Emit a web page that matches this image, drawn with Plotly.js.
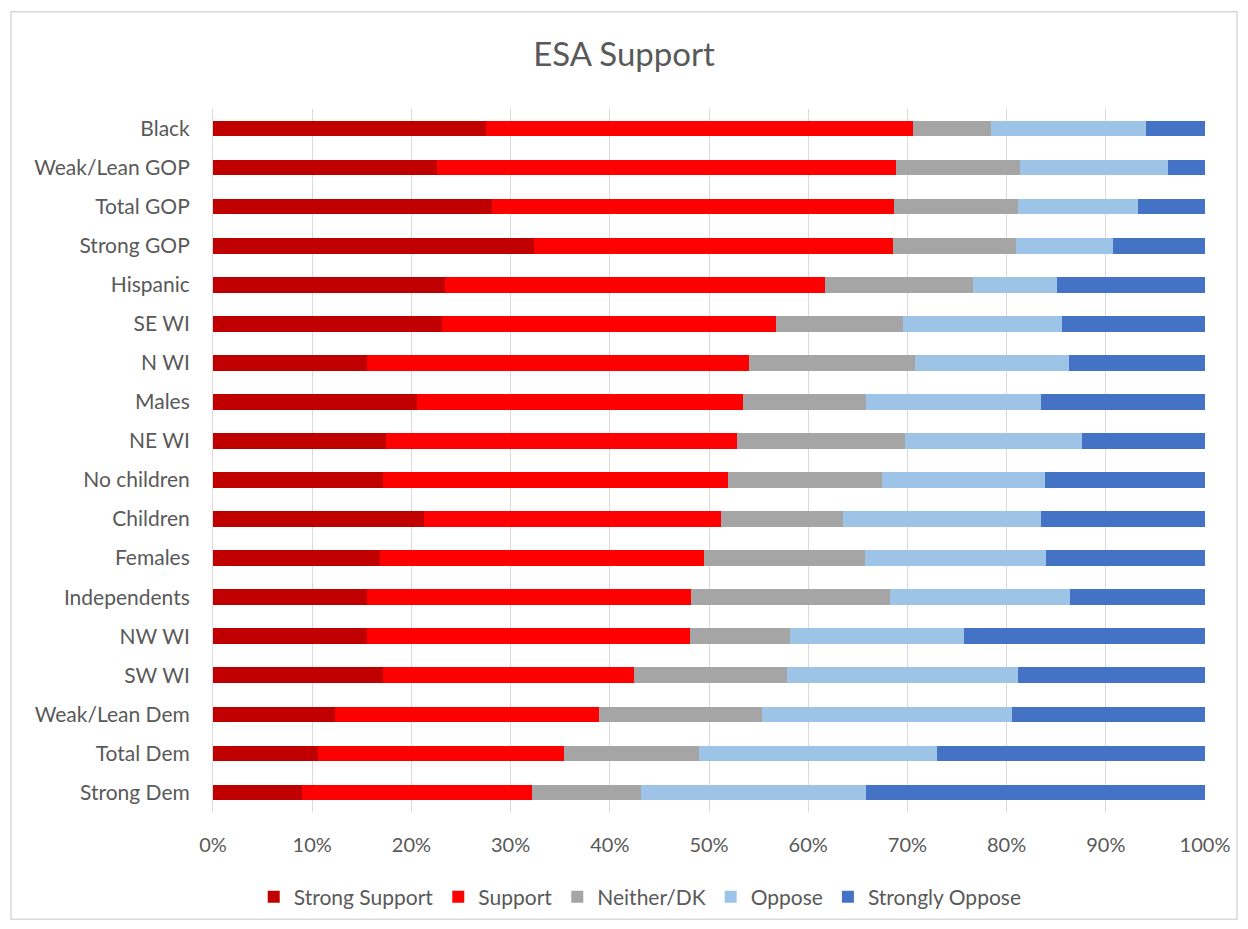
<!DOCTYPE html>
<html>
<head>
<meta charset="utf-8">
<script src="https://cdn.plot.ly/plotly-3.0.1.min.js"></script>
<style>
html,body{margin:0;padding:0;background:#fff;}
#chart{width:1248px;height:929px;}
</style>
</head>
<body>
<div id="chart"></div>
<script>
// Categories, top to bottom as shown
var categories = ["Black","Weak/Lean GOP","Total GOP","Strong GOP","Hispanic","SE WI","N WI","Males","NE WI","No children","Children","Females","Independents","NW WI","SW WI","Weak/Lean Dem","Total Dem","Strong Dem"];

var strongSupport  = [27.5,22.6,28.1,32.4,23.4,23.1,15.5,20.6,17.4,17.1,21.3,16.8,15.5,15.5,17.1,12.3,10.6, 9.0];
var support        = [43.1,46.2,40.5,36.1,38.3,33.7,38.5,32.8,35.4,34.8,29.9,32.7,32.7,32.6,25.3,26.6,24.8,23.2];
var neither        = [ 7.8,12.6,12.5,12.4,14.9,12.8,16.8,12.4,17.0,15.5,12.3,16.2,20.0,10.1,15.5,16.4,13.6,10.9];
var oppose         = [15.7,14.9,12.1, 9.8, 8.5,16.0,15.5,17.7,17.8,16.5,20.0,18.3,18.2,17.5,23.2,25.2,24.0,22.7];
var stronglyOppose = [ 5.9, 3.7, 6.8, 9.3,14.9,14.4,13.7,16.5,12.4,16.1,16.5,16.0,13.6,24.3,18.9,19.5,27.0,34.2];

var seriesNames = ["Strong Support","Support","Neither/DK","Oppose","Strongly Oppose"];
var seriesColors = ["#C00000","#FF0000","#A5A5A5","#9DC3E6","#4472C4"];
var seriesValues = [strongSupport, support, neither, oppose, stronglyOppose];

var xTickVals = [0,10,20,30,40,50,60,70,80,90,100];
var xTickText = ["0%","10%","20%","30%","40%","50%","60%","70%","80%","90%","100%"];

var FONT = "Lato, Calibri, Carlito, 'Open Sans', sans-serif";

var traces = seriesValues.map(function(vals, i){
  var total = categories.map(function(c, j){
    return seriesValues.reduce(function(s, arr){ return s + arr[j]; }, 0);
  });
  return {
    type: "bar",
    orientation: "h",
    name: seriesNames[i],
    y: categories,
    x: vals.map(function(v, j){ return v / total[j] * 100; }),
    marker: {color: seriesColors[i], line: {width: 0}},
    hoverinfo: "x+y+name"
  };
});

var layout = {
  width: 1248,
  height: 929,
  barmode: "stack",
  bargap: 0.6,
  paper_bgcolor: "#ffffff",
  plot_bgcolor: "#ffffff",
  font: {family: FONT, size: 21, color: "#595959"},
  margin: {l: 213, r: 43, t: 108.5, b: 116.5, pad: 0},
  title: {
    text: "ESA Support",
    font: {family: FONT, size: 33, color: "#595959"},
    x: 0.5, xref: "container", xanchor: "center",
    y: 1 - 54/929, yref: "container", yanchor: "middle"
  },
  xaxis: {
    range: [0, 100],
    tickvals: xTickVals,
    ticktext: xTickText,
    showgrid: true,
    gridcolor: "#d9d9d9",
    gridwidth: 1,
    zeroline: false,
    showline: false,
    ticks: "",
    ticklabelstandoff: 19,
    tickfont: {family: FONT, size: 20, color: "#595959"},
    fixedrange: true
  },
  yaxis: {
    type: "category",
    categoryorder: "array",
    categoryarray: categories,
    autorange: "reversed",
    showgrid: false,
    zeroline: false,
    showline: true,
    linecolor: "#d9d9d9",
    linewidth: 1,
    ticks: "",
    ticklabelstandoff: 18,
    tickfont: {family: FONT, size: 21, color: "#595959"},
    fixedrange: true
  },
  showlegend: true,
  legend: {
    orientation: "h",
    xref: "container", yref: "container",
    x: 0.513, xanchor: "center",
    y: 1 - 897/929, yanchor: "middle",
    traceorder: "normal",
    font: {family: FONT, size: 21, color: "#595959"},
    itemwidth: 30,
    bgcolor: "rgba(0,0,0,0)"
  },
  shapes: [{
    type: "rect",
    xref: "paper", yref: "paper",
    x0: (11 - 213) / 992, x1: (1237 - 213) / 992,
    y0: (812.5 - 920) / 704, y1: (812.5 - 11) / 704,
    line: {color: "#d9d9d9", width: 1.5},
    fillcolor: "rgba(0,0,0,0)",
    layer: "below"
  }]
};

Plotly.newPlot("chart", traces, layout, {displayModeBar: false, staticPlot: true});
</script>
</body>
</html>
